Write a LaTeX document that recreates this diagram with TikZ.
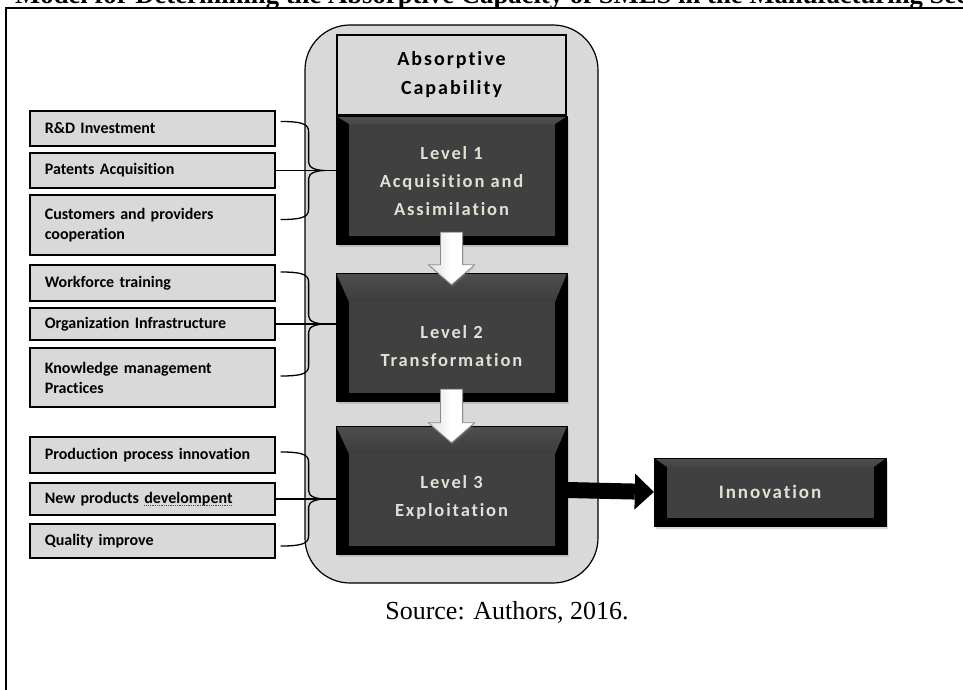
\documentclass[tikz,border=0pt]{standalone}
\usepackage{fontspec}
\setmainfont{Liberation Serif}
\newfontfamily\boxfont[Ligatures=NoCommon]{Carlito}
\newfontfamily\levelfont[LetterSpace=10, Ligatures=NoCommon]{Carlito}
\usetikzlibrary{calc,shadows,arrows.meta,positioning}

\definecolor{panel}{RGB}{217,217,217}
\definecolor{face}{RGB}{64,64,64}
\definecolor{bevel}{RGB}{78,78,78}
\definecolor{lighttext}{RGB}{226,223,212}

% red spell-check mark under a word
\newsavebox{\typobox}
\newcommand{\typo}[1]{\sbox{\typobox}{#1}\rlap{\color{red}\leaders\hbox{\rule[-2.5pt]{0.9pt}{0.9pt}\kern0.9pt}\hskip\wd\typobox}\usebox{\typobox}}

\begin{document}
\begin{tikzpicture}[
    x=1pt, y=-1pt,
    frame/.style={line width=2pt},
    container/.style={rectangle, rounded corners=45pt, draw, line width=1.2pt, fill=panel, minimum width=293pt, minimum height=558pt},
    header/.style={rectangle, draw, line width=1.2pt, fill=panel, minimum width=229pt, minimum height=80pt, align=center, font=\levelfont\bfseries\fontsize{20}{29}\selectfont},
    levelbox/.style={rectangle, draw=black, fill=black, minimum width=231pt, minimum height=128pt,
        drop shadow={opacity=0.3, shadow xshift=2pt, shadow yshift=-3pt},
        path picture={
            \shade[top color=bevel, bottom color=black] (path picture bounding box.north west) -- (path picture bounding box.north east)
                -- ([xshift=-12pt, yshift=-#1]path picture bounding box.north east) -- ([xshift=13pt, yshift=-#1]path picture bounding box.north west) -- cycle;
            \fill[face] ([xshift=13pt, yshift=-#1]path picture bounding box.north west) rectangle ([xshift=-12pt, yshift=8pt]path picture bounding box.south east);
        }},
    levtext/.style={align=center, text=lighttext, font=\levelfont\bfseries\fontsize{18.5}{28}\selectfont},
    feed/.style={rectangle, draw, line width=1.6pt, fill=panel, anchor=west, text width=215pt, inner xsep=15pt, align=left, font=\boxfont\bfseries\fontsize{16}{20}\selectfont},
    link/.style={line width=1.3pt},
    flowarrow/.style={draw=gray!90, line width=0.8pt, left color=gray!25, right color=white, middle color=white, drop shadow={opacity=0.25, shadow xshift=1pt, shadow yshift=-2pt}},
    bigarrow/.style={line width=16pt, -{Triangle[length=19pt, width=36pt, line width=0pt]}}
]

\useasboundingbox (0,0) rectangle (963,690);
\clip (0,0) rectangle (963,690);

% Frame and caption
\draw[frame] (6,8) rectangle (1000,720);
\node[anchor=base west, inner sep=0pt, font=\bfseries\fontsize{26.7}{30}\selectfont] (title) at (15,4) {Model for Determining the Absorptive Capacity of SMES in the Manufacturing Sector};
\node[anchor=base, inner sep=0pt, font=\fontsize{26}{30}\selectfont] (source) at (507,619) {Source: Authors, 2016.};

% Absorptive capability column
\node[container] (absorb) at (451.5,304) {};
\node[header] (head) at (451.5,75) {Absorptive\\Capability};
\node[levelbox=8pt] (lvl1) at (451.5,180) {};
\node[levelbox=29pt] (lvl2) at (451.5,337) {};
\node[levelbox=28pt] (lvl3) at (451.5,490) {};

\node[levtext] (lvl1text) at ($(lvl1.center)+(0,1.5)$) {Level 1\\Acquisition and\\Assimilation};
\node[levtext] (lvl2text) at ($(lvl2.center)+(0,9)$) {Level 2\\Transformation};
\node[levtext] (lvl3text) at ($(lvl3.center)+(0,7)$) {Level 3\\Exploitation};

% Innovation
\node[levelbox=9pt, minimum width=232pt, minimum height=68pt, levtext, text=lighttext, font=\levelfont\bfseries\fontsize{19}{24}\selectfont] (innov) at (770,492) {Innovation};

% Determinants
\node[feed, minimum height=35pt] (rd) at (29,128.5) {R\&D Investment};
\node[feed, minimum height=35pt] (pat) at (29,170.5) {Patents Acquisition};
\node[feed, minimum height=60pt] (cust) at (29,225) {Customers and providers\\cooperation};

\node[feed, minimum height=36pt] (wft) at (29,283) {Workforce training};
\node[feed, minimum height=32pt] (org) at (29,324) {Organization Infrastructure};
\node[feed, minimum height=59pt] (kmp) at (29,377.5) {Knowledge management\\Practices};

\node[feed, minimum height=36pt] (ppi) at (29,455) {Production process innovation};
\node[feed, minimum height=32pt] (npd) at (29,499) {New products \typo{develompent}};
\node[feed, minimum height=34pt] (qim) at (29,541) {Quality improve};

% Braces into the levels
\foreach \m/\l/\h in {pat/lvl1/49, org/lvl2/52, npd/lvl3/47} {
    \coordinate (tip) at ($(\m.east)+(50,0)$);
    \draw[link] ($(tip)+(-45,-\h)$) .. controls +(20,0) and +(0,-8) .. ($(tip)+(-17,-\h+10)$)
        -- ($(tip)+(-17,-8)$) .. controls +(0,6) and +(-8,0) .. (tip)
        .. controls +(-8,0) and +(0,-6) .. ($(tip)+(-17,8)$)
        -- ($(tip)+(-17,\h-10)$) .. controls +(0,8) and +(20,0) .. ($(tip)+(-45,\h)$);
    \draw[link] (\m.east) -- (\m.east -| \l.west);
}

% Arrows between levels
\foreach \a/\b/\t in {lvl1/lvl2/12, lvl2/lvl3/17} {
    \draw[flowarrow] ($(\a.south)+(-11,-12)$) -- ($(\b.north)+(-11,\t-20)$) -- ($(\b.north)+(-23,\t-20)$)
        -- ($(\b.north)+(0,\t)$) -- ($(\b.north)+(23,\t-20)$) -- ($(\b.north)+(11,\t-20)$)
        -- ($(\a.south)+(11,-12)$) -- cycle;
}

\draw[bigarrow] (lvl3.east) -- (innov.west);

\end{tikzpicture}
\end{document}
